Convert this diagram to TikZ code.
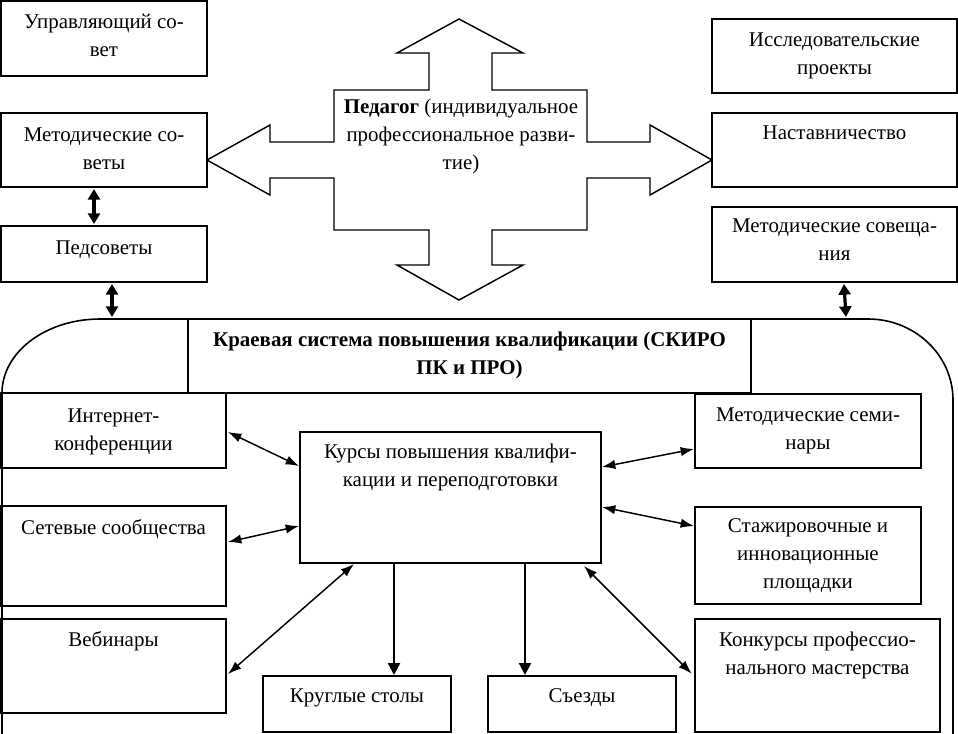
\documentclass[tikz,border=0pt]{standalone}
\usepackage{fontspec}
\setmainfont{Liberation Serif}
\usetikzlibrary{arrows.meta,calc}
\newcommand\boxat[5]{%
  \node[box, minimum width={(#4-#2)*0.75pt}, minimum height={(#5-#3)*0.75pt}] (#1) at ({(#2+#4)/2},{(#3+#5)/2}) {};}
\newcommand\tl[1]{\begin{tabular}[t]{@{}c@{}}#1\end{tabular}}
\begin{document}
\begin{tikzpicture}[x=0.75pt,y=-0.75pt,
  box/.style={draw, line width=1.5pt, inner sep=0pt},
  txt/.style={anchor=base, inner sep=0pt, font=\fontsize{15.7}{21}\selectfont},
  thinarr/.style={line width=1.1pt, {Latex[length=10pt,width=7pt]}-{Latex[length=10pt,width=7pt]}},
  boldarr/.style={line width=2.4pt, {Triangle[length=8pt,width=9pt]}-{Triangle[length=8pt,width=9pt]}},
  downarr/.style={line width=1.6pt, -{Triangle[length=9pt,width=9pt]}},
  cross/.style={draw, line width=1.1pt}
]
\useasboundingbox (0,0) rectangle (958,733);

% big rounded frame
\draw[line width=1.2pt] (2,734) -- (2,393) arc[start angle=180, end angle=270, x radius=98, y radius=74]
  -- (868,319) arc[start angle=270, end angle=360, x radius=85, y radius=81] -- (953,734);

% central cross arrow
\draw[cross] (459,19) -- (523,53) -- (492,53) -- (492,90) -- (587,90) -- (587,142) -- (650,142) -- (650,125)
  -- (712,160) -- (650,195) -- (650,178) -- (587,178) -- (587,230) -- (492,230) -- (492,265) -- (523,265)
  -- (459,300) -- (397,265) -- (429,265) -- (429,230) -- (334,230) -- (334,178) -- (270,178) -- (270,195)
  -- (207,160) -- (270,125) -- (270,142) -- (334,142) -- (334,90) -- (429,90) -- (429,53) -- (397,53) -- cycle;
\node[txt] (ped) at (461,113) {\tl{\textbf{Педагог} (индивидуальное\\профессиональное разви-\\тие)}};

% boxes
\boxat{usovet}{1}{1}{207}{76}
\boxat{msovet}{1}{113}{207}{187}
\boxat{pedsov}{1}{226}{207}{282}
\boxat{issl}{712}{19}{957}{93}
\boxat{nastav}{712}{113}{957}{187}
\boxat{msov}{712}{207}{957}{282}
\node[box, fill=white, minimum width={563*0.75pt}, minimum height={74*0.75pt}] (kraev) at (469.5,356) {};
\boxat{inet}{1}{393}{226}{468}
\boxat{setev}{1}{506}{226}{606}
\boxat{webin}{1}{619}{226}{713}
\boxat{kursy}{300}{432}{601}{563}
\boxat{msemin}{695}{394}{921}{468}
\boxat{stazh}{695}{507}{921}{604}
\node[box, line width=2pt, minimum width={245*0.75pt}, minimum height={113*0.75pt}] (konk) at (817.5,675.5) {};
\boxat{krugl}{263}{676}{451}{732}
\boxat{sezd}{488}{676}{676}{732}

% texts (first baseline below box top)
\node[txt] (usovett) at ($(usovet.north)+(0,28)$) {\tl{Управляющий со-\\вет}};
\node[txt] (msovett) at ($(msovet.north)+(0,29)$) {\tl{Методические со-\\веты}};
\node[txt] (pedsovt) at ($(pedsov.north)+(0,29)$) {\tl{Педсоветы}};
\node[txt] (isslt) at ($(issl.north)+(0,28)$) {\tl{Исследовательские\\проекты}};
\node[txt] (nastavt) at ($(nastav.north)+(0,27)$) {\tl{Наставничество}};
\node[txt] (msovt) at ($(msov.north)+(0,26)$) {\tl{Методические совеща-\\ния}};
\node[txt, font=\fontsize{15.7}{21}\selectfont\bfseries] (kraevt) at ($(kraev.north)+(0,28)$) {\tl{Краевая система повышения квалификации (СКИРО\\ПК и ПРО)}};
\node[txt] (inett) at ($(inet.north)+(0,30)$) {\tl{Интернет-\\конференции}};
\node[txt] (setevt) at ($(setev.north)+(0,29)$) {\tl{Сетевые сообщества}};
\node[txt] (webint) at ($(webin.north)+(0,28)$) {\tl{Вебинары}};
\node[txt] (kursyt) at ($(kursy.north)+(0,27)$) {\tl{Курсы повышения квалифи-\\кации и переподготовки}};
\node[txt] (msemint) at ($(msemin.north)+(0,28)$) {\tl{Методические семи-\\нары}};
\node[txt] (stazht) at ($(stazh.north)+(0,26)$) {\tl{Стажировочные и\\инновационные\\площадки}};
\node[txt] (konkt) at ($(konk.north)+(0,29)$) {\tl{Конкурсы профессио-\\нального мастерства}};
\node[txt] (kruglt) at ($(krugl.north)+(0,27)$) {\tl{Круглые столы}};
\node[txt] (sezdt) at ($(sezd.north)+(0,27)$) {\tl{Съезды}};

% connectors
\draw[boldarr] ($(msovet.south west)+(94,1)$) -- ($(pedsov.north west)+(94,-1)$);
\draw[boldarr] ($(pedsov.south west)+(112,1)$) -- ($(kraev.north west)+(-75,-1)$);
\draw[boldarr] ($(msov.south west)+(133,1)$) -- ($(kraev.north east)+(94,-1)$);

\draw[thinarr] ($(inet.north east)+(1,40)$) -- ($(kursy.north west)+(0,35)$);
\draw[thinarr] ($(setev.north east)+(1,37)$) -- ($(kursy.north west)+(0,95)$);
\draw[thinarr] ($(webin.north east)+(1,56)$) -- ($(kursy.south west)+(55,0)$);
\draw[thinarr] ($(kursy.north east)+(0,36)$) -- ($(msemin.north west)+(0,56)$);
\draw[thinarr] ($(kursy.north east)+(0,76)$) -- ($(stazh.north west)+(0,20)$);
\draw[thinarr] ($(kursy.south west)+(285,2)$) -- ($(konk.north west)+(-2,56)$);
\draw[downarr] ($(kursy.south west)+(95,0)$) -- ($(krugl.north west)+(132,0)$);
\draw[downarr] ($(kursy.south west)+(226,0)$) -- ($(sezd.north west)+(38,0)$);
\end{tikzpicture}
\end{document}
